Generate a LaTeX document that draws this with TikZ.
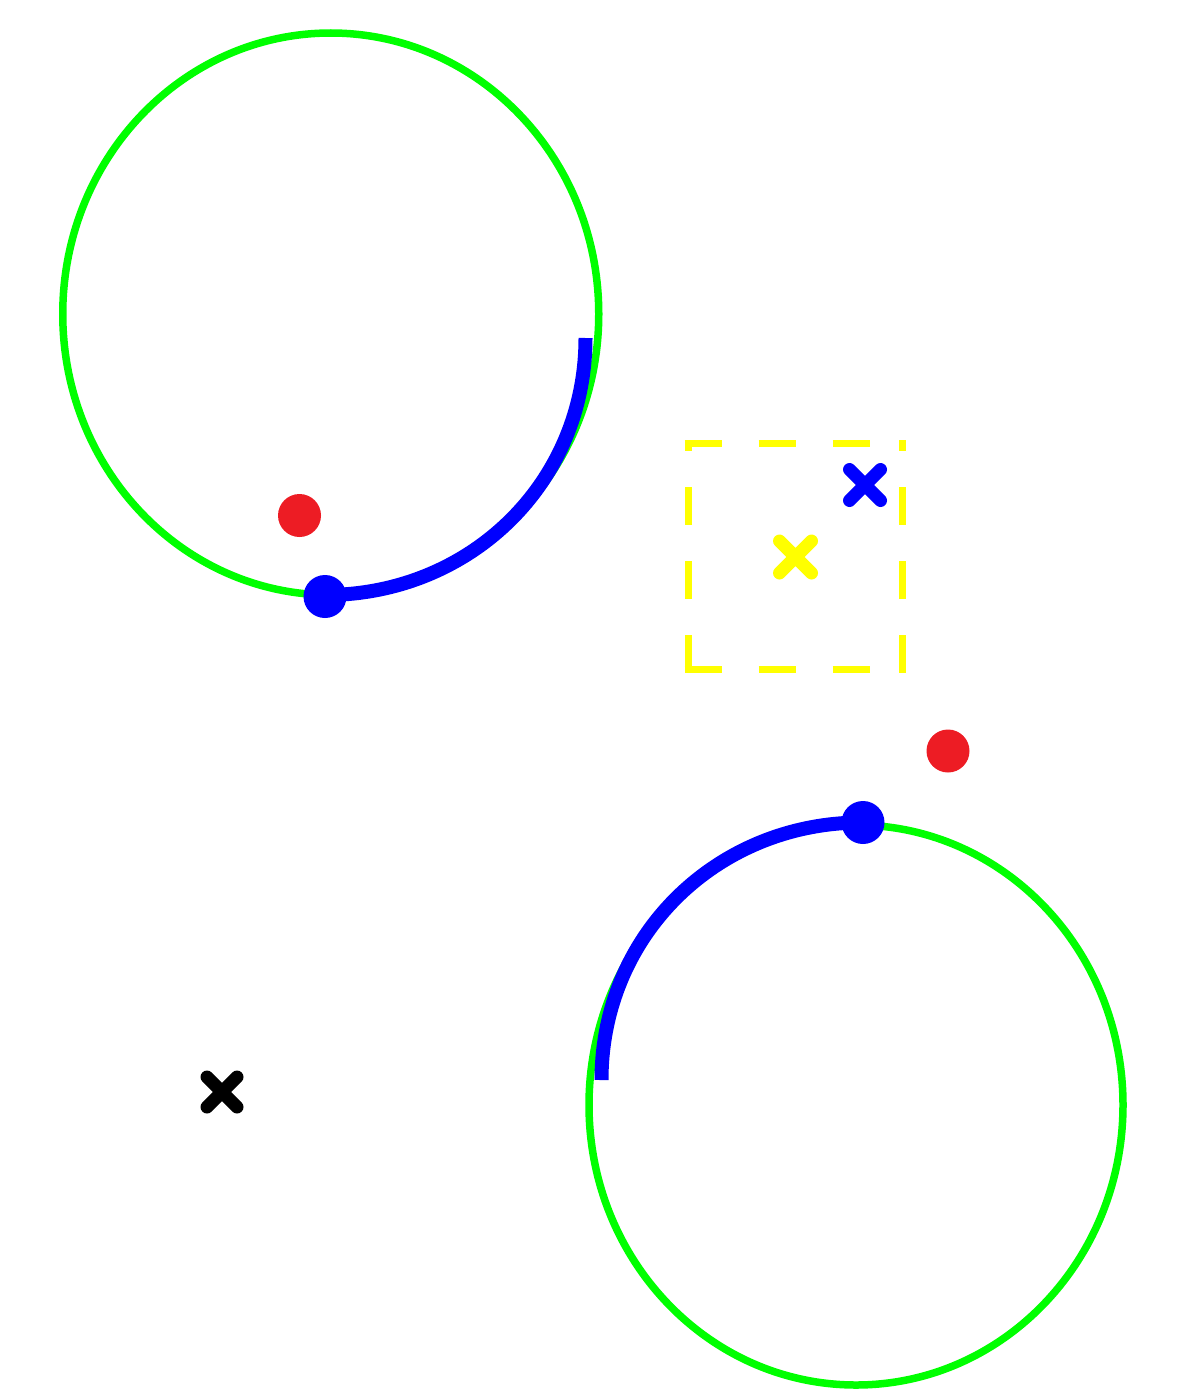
\documentclass[tikz,border=0pt]{standalone}
\definecolor{pgreen}{RGB}{0,255,0}
\definecolor{pblue}{RGB}{0,0,255}
\definecolor{pred}{RGB}{237,28,36}
\definecolor{pyellow}{RGB}{255,255,0}
\begin{document}
\begin{tikzpicture}[x=1pt,y=-1pt,
  ring/.style={draw=pgreen,line width=7.5pt},
  track/.style={draw=pblue,line width=14pt},
  xmark/.style={line width=13pt,line cap=round},
  frame/.style={draw=pyellow,line width=7pt,dash pattern=on 37.5pt off 36.5pt}]
\useasboundingbox (0,0) rectangle (1179,1394);
% green rings
\coordinate (c1) at (330.75,314);
\coordinate (c2) at (856,1105);
\draw[ring] (c1) ellipse [x radius=268, y radius=281];
\draw[ring] (c2) ellipse [x radius=267, y radius=280];
% blue tracks
\coordinate (s1) at (585.5,338);
\coordinate (e1) at (325,595);
\coordinate (s2) at (601.5,1080);
\coordinate (e2) at (862,822.5);
\draw[track] (s1) .. controls (585.5,483) and (470,595) .. (e1);
\draw[track] (s2) .. controls (601.5,935) and (717,822.5) .. (e2);
% dots
\coordinate (b1) at (325,596.5);
\coordinate (b2) at (863,822.5);
\coordinate (r1) at (299.5,515.5);
\coordinate (r2) at (948,751);
\fill[pblue] (b1) circle[radius=21.5];
\fill[pblue] (b2) circle[radius=21.5];
\fill[pred] (r1) circle[radius=21.5];
\fill[pred] (r2) circle[radius=21.5];
% dashed frame
\draw[frame] (688,672.5) -- (688,443.5);
\draw[frame] (902,672.5) -- (902,440);
\draw[frame] (684.5,443.5) -- (902,443.5);
\draw[frame] (684.5,669) -- (902,669);
% crosses
\coordinate (xb) at (865,485);
\coordinate (xy) at (795.5,557);
\coordinate (xk) at (222,1092);
\draw[xmark,pblue] (xb) ++(-15.5,-15.5) -- ++(31,31) (xb) ++(-15.5,15.5) -- ++(31,-31);
\draw[xmark,pyellow] (xy) ++(-16,-16) -- ++(32,32) (xy) ++(-16,16) -- ++(32,-32);
\draw[xmark,black] (xk) ++(-15,-15) -- ++(30,30) (xk) ++(-15,15) -- ++(30,-30);
\end{tikzpicture}
\end{document}
